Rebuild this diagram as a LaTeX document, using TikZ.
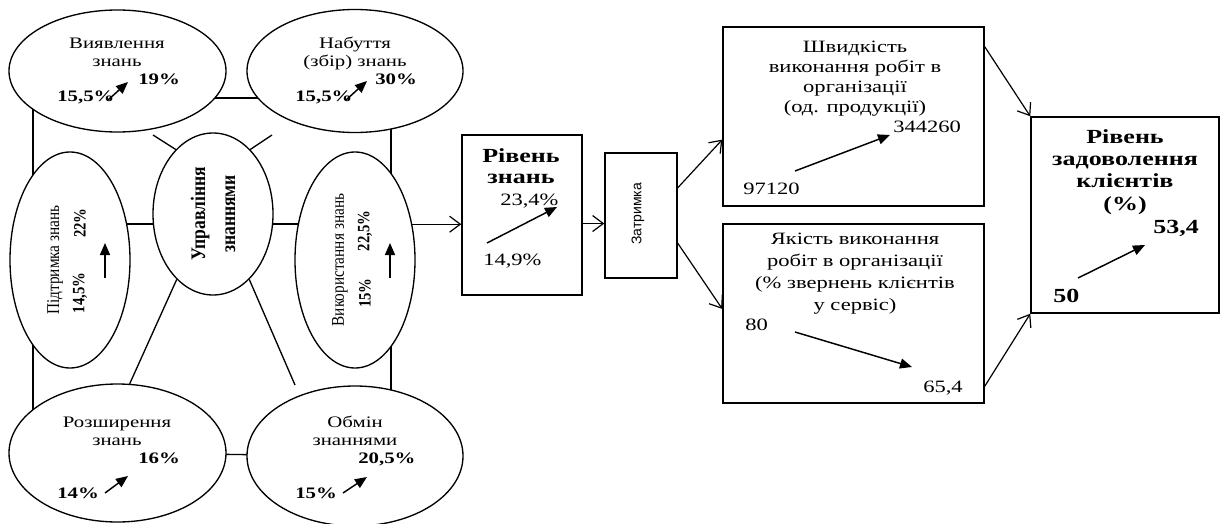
\documentclass[tikz,border=0pt]{standalone}
\usepackage{fontspec}
\setmainfont{Liberation Serif}[FakeStretch=1.3]
\newfontfamily\rotfont{Liberation Serif}[FakeStretch=0.85]
\newfontfamily\narrowfont{Liberation Sans}
\usetikzlibrary{shapes.geometric,arrows.meta,backgrounds}
\tikzset{
  kell/.style={draw, ellipse, line width=1pt, fill=white, inner sep=0pt},
  kbox/.style={draw, rectangle, line width=1.1pt, fill=white, inner sep=0pt},
  ktitle/.style={align=center, anchor=base, inner sep=0pt, font=\fontsize{12}{13.5}\selectfont},
  kval/.style={anchor=base west, inner sep=0pt, font=\fontsize{12}{13}\selectfont\bfseries},
  knum/.style={anchor=base west, inner sep=0pt, font=\fontsize{13}{15}\selectfont},
  kbig/.style={anchor=base west, inner sep=0pt, font=\fontsize{15}{17}\selectfont\bfseries},
  kside/.style={rotate=90, inner sep=0pt, font=\rotfont\fontsize{13.5}{15}\selectfont},
  ksideval/.style={rotate=90, inner sep=0pt, font=\rotfont\fontsize{13}{15}\selectfont\bfseries},
  klink/.style={line width=1pt},
  kflow/.style={line width=0.9pt, -{Straight Barb[length=8pt,width=12pt]}},
  ktrend/.style={line width=1.1pt, -{Triangle[length=9pt,width=7.5pt]}}
}

\begin{document}
\begin{tikzpicture}[x=0.75pt, y=-0.75pt]
    \useasboundingbox (0,0) rectangle (1227,524);
    % knowledge management ellipses
    \node[kell, minimum width=162.75pt, minimum height=91.5pt] (vyav) at (117.5,71) {};
    \node[kell, minimum width=162pt, minimum height=92.25pt] (nab) at (355,71) {};
    \node[kell, minimum width=90pt, minimum height=162pt] (pidtr) at (70,260) {};
    \node[kell, minimum width=90pt, minimum height=121.5pt] (upr) at (213,214) {};
    \node[kell, minimum width=90pt, minimum height=162pt] (vykor) at (355,260) {};
    \node[kell, minimum width=162.75pt, minimum height=103.5pt] (rozsh) at (117.5,453) {};
    \node[kell, minimum width=162pt, minimum height=105pt] (obmin) at (355,456) {};

    \node[ktitle] (vyavT) at (117,67) {Виявлення\\знань};
    \node[kval] (vyavA) at (57,102) {15,5\%};
    \node[kval] (vyavB) at (138,85) {19\%};
    \node[ktitle] (nabT) at (355,67) {Набуття\\(збір) знань};
    \node[kval] (nabA) at (295,102) {15,5\%};
    \node[kval] (nabB) at (375,85) {30\%};
    \node[ktitle] (rozshT) at (117,445) {Розширення\\знань};
    \node[kval] (rozshA) at (57,498) {14\%};
    \node[kval] (rozshB) at (138,463) {16\%};
    \node[ktitle] (obminT) at (355,445) {Обмін\\знаннями};
    \node[kval] (obminA) at (295,498) {15\%};
    \node[kval] (obminB) at (358,463) {20,5\%};
    \node[kside] (pidtrT) at (55,260) {Підтримка знань};
    \node[ksideval] (pidtrA) at (80,293) {14,5\%};
    \node[ksideval] (pidtrB) at (80,223) {22\%};
    \node[kside] (vykorT) at (340,260) {Використання знань};
    \node[ksideval] (vykorA) at (365,293) {15\%};
    \node[ksideval] (vykorB) at (365,231) {22,5\%};
    \node[kside, align=center, font=\rotfont\fontsize{15.5}{22.5}\selectfont\bfseries] (uprT) at (213,214) {Управління\\знаннями};

    % result boxes
    \node[kbox, minimum width=90pt, minimum height=120pt] (rivzn) at (522,215) {};
    \node[kbox, minimum width=54pt, minimum height=93.75pt] (zatr) at (641,215.5) {};
    \node[kbox, minimum width=195.75pt, minimum height=134.25pt] (shv) at (853.5,116.5) {};
    \node[kbox, minimum width=195.75pt, minimum height=134.25pt] (yak) at (853.5,313.5) {};
    \node[kbox, minimum width=141pt, minimum height=147pt] (zadov) at (1125,215) {};

    \node[ktitle, font=\fontsize{15}{15.75}\selectfont\bfseries] (rivznT) at (521,183) {Рівень\\знань};
    \node[knum] (rivznB) at (500,205) {23,4\%};
    \node[knum] (rivznA) at (483,265) {14,9\%};
    \node[rotate=90, inner sep=0pt, font=\narrowfont\fontsize{10.5}{12}\selectfont] (zatrT) at (638,214) {Затримка};
    \node[ktitle, font=\fontsize{13}{15}\selectfont] (shvT) at (855,113) {Швидкість\\виконання робіт в\\організації\\(од. продукції)};
    \node[knum] (shvB) at (893,133) {344260};
    \node[knum] (shvA) at (743,195) {97120};
    \node[ktitle, font=\fontsize{13}{16.5}\selectfont] (yakT) at (855,310) {Якість виконання\\робіт в організації\\(\% звернень клієнтів\\у сервіс)};
    \node[knum] (yakA) at (745,330) {80};
    \node[knum] (yakB) at (923,392) {65,4};
    \node[ktitle, font=\fontsize{15}{16.75}\selectfont\bfseries] (zadovT) at (1125,210) {Рівень\\задоволення\\клієнтів\\(\%)};
    \node[kbig] (zadovB) at (1153,233) {53,4};
    \node[kbig] (zadovA) at (1053,302) {50};

    \coordinate (s1) at (153,135);
    \coordinate (s2) at (272,135);
    \coordinate (s4) at (295,385);

    \begin{scope}[on background layer]
    \draw[klink] ([yshift=-20.25pt]vyav.center) -- ([yshift=-20.25pt]nab.center);
    \draw[klink] ([xshift=-63.375pt]vyav.center) -- ([xshift=-63.375pt]rozsh.center);
    \draw[klink] ([xshift=27pt]nab.center) -- ([xshift=27pt]obmin.center);
    \draw[klink] ([yshift=27pt]pidtr.center) -- ([yshift=27pt]vykor.center);
    \draw[klink] (rozsh.center) -- (obmin.center);
    \end{scope}
    \draw[klink] (upr.120) -- (s1);
    \draw[klink] (upr.60) -- (s2);
    \draw[klink] (upr.-119) -- (rozsh.80);
    \draw[klink] (upr.-61) -- (s4);

    \draw[kflow] (vykor.32) -- (vykor.32 -| rivzn.west);
    \draw[kflow] (rivzn.-8) -- (rivzn.-8 -| zatr.west);
    \draw[kflow] (zatr.37) -- (shv.190);
    \draw[kflow] (zatr.-37) -- (yak.178);
    \draw[kflow] (shv.28) -- (zadov.north west);
    \draw[kflow] (yak.-29) -- (zadov.south west);

    % growth arrows
    \draw[ktrend] (108,100) coordinate (t1a) -- (128,82) coordinate (t1b);
    \draw[ktrend] (346,100) coordinate (t2a) -- (367,81) coordinate (t2b);
    \draw[ktrend] (105,493) coordinate (t3a) -- (128,476) coordinate (t3b);
    \draw[ktrend] (343,493) coordinate (t4a) -- (367,477) coordinate (t4b);
    \draw[ktrend] (105,278) coordinate (t5a) -- (105,243) coordinate (t5b);
    \draw[ktrend] (390,278) coordinate (t6a) -- (390,243) coordinate (t6b);
    \draw[ktrend] (487,243) coordinate (t7a) -- (557,207) coordinate (t7b);
    \draw[ktrend] (795,171) coordinate (t8a) -- (890,135) coordinate (t8b);
    \draw[ktrend] (795,332) coordinate (t9a) -- (912,367) coordinate (t9b);
    \draw[ktrend] (1078,278) coordinate (t10a) -- (1145,245) coordinate (t10b);
\end{tikzpicture}
\end{document}
